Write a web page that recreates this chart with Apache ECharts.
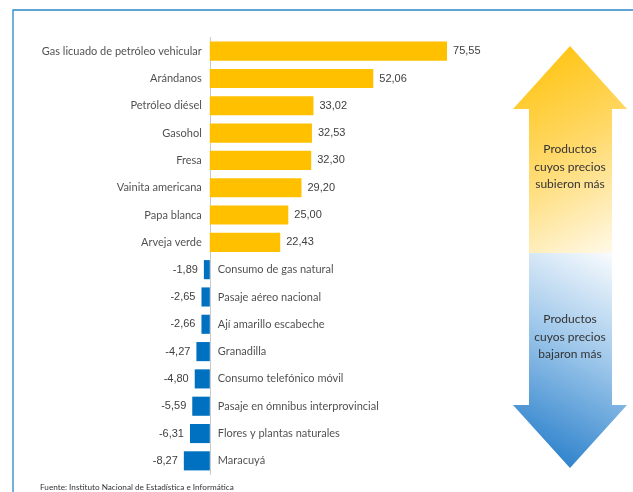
<!DOCTYPE html>
<html><head><meta charset="utf-8">
<script src="https://cdn.jsdelivr.net/npm/echarts@6/dist/echarts.min.js"></script>
<style>html,body{margin:0;padding:0;background:#fff}#c{width:633px;height:492px}</style>
</head><body><div id="c"></div>
<script>
var categories = ["Gas licuado de petróleo vehicular","Arándanos","Petróleo diésel","Gasohol","Fresa","Vainita americana","Papa blanca","Arveja verde","Consumo de gas natural","Pasaje aéreo nacional","Ají amarillo escabeche","Granadilla","Consumo telefónico móvil","Pasaje en ómnibus interprovincial","Flores y plantas naturales","Maracuyá"];
var values = [75.55,52.06,33.02,32.53,32.30,29.20,25.00,22.43,-1.89,-2.65,-2.66,-4.27,-4.80,-5.59,-6.31,-8.27];
var upText = ["Productos","cuyos precios","subieron más"];
var downText = ["Productos","cuyos precios","bajaron más"];
var source = "Fuente: Instituto Nacional de Estadística e Informática";

var nameFont = 'Lato,sans-serif';
function fmt(v){return v.toFixed(2).replace('.',',');}

var barData = values.map(function(v){
  return {value:v, itemStyle:{color: v>=0 ? '#FFC000' : '#0070C0'},
    label:{show:true, position: v>=0?'right':'left', distance:6, formatter: fmt(v)}};
});
var nameData = categories.map(function(c,i){
  return {value:[0,c], label:{show:true, position: values[i]>=0?'left':'right', distance:8, formatter:c}};
});

var chart = echarts.init(document.getElementById('c'), null, {renderer:'canvas'});
chart.setOption({
  animation:false,
  grid:{left:178.4, right:140.6, top:37.5, bottom:17.5, containLabel:false},
  xAxis:{type:'value', min:-10, max:90, show:false, splitLine:{show:false}},
  yAxis:{type:'category', data:categories, inverse:true,
    axisLine:{show:true, onZero:true, lineStyle:{color:'#c8c8c8', width:1}},
    axisTick:{show:false}, axisLabel:{show:false}},
  series:[
    {type:'bar', data:barData, barCategoryGap:'30%', silent:true,
     label:{color:'#404040', fontSize:11, fontFamily:'"Liberation Sans",Arial,sans-serif'}},
    {type:'scatter', data:nameData, symbolSize:0, silent:true, itemStyle:{color:'transparent'},
     label:{color:'#1f1f1f', fontSize:11, fontFamily:nameFont}}
  ],
  graphic:[
    {type:'polyline', shape:{points:[[633,10],[13,10],[13,492]]}, style:{stroke:'#2a86c9', lineWidth:1.3, fill:null}, silent:true},
    {type:'polygon', shape:{points:[[570,46],[627,109],[612,109],[612,253],[529,253],[529,109],[513,109]]},
     style:{fill:new echarts.graphic.LinearGradient(0,0,1,1,[{offset:0,color:'#FFC000'},{offset:0.5,color:'#FFD96A'},{offset:1,color:'#FFFBF0'}])}, silent:true},
    {type:'polygon', shape:{points:[[529,253],[612,253],[612,405],[627,405],[570,468],[513,405],[529,405]]},
     style:{fill:new echarts.graphic.LinearGradient(1,0,0,1,[{offset:0,color:'#FFFFFF'},{offset:0.45,color:'#9CC6EA'},{offset:1,color:'#1573C5'}])}, silent:true},
    {type:'text', style:{text:upText.join('\n'), x:570, y:167, align:'center', verticalAlign:'middle', lineHeight:17.5, fontSize:12, fontFamily:nameFont, fill:'#333'}, silent:true},
    {type:'text', style:{text:downText.join('\n'), x:570, y:337, align:'center', verticalAlign:'middle', lineHeight:17.5, fontSize:12, fontFamily:nameFont, fill:'#333'}, silent:true},
    {type:'text', style:{text:source, x:40, y:487, verticalAlign:'middle', fontSize:8.2, fontFamily:nameFont, fill:'#333'}, silent:true}
  ]
});
</script></body></html>
